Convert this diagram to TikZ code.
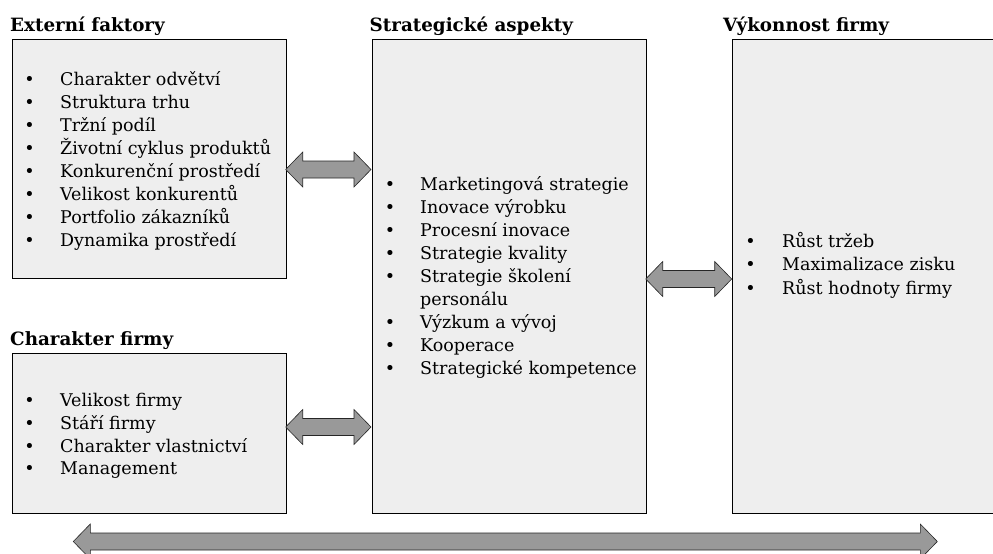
\documentclass[tikz,border=0pt]{standalone}
\usepackage{fontspec}
\setmainfont{DejaVu Serif}
\definecolor{boxgray}{HTML}{EEEEEE}
\definecolor{arrowgray}{HTML}{999999}
\newcommand\harrow[3]{%
  \draw[blockarrow] (#1,#3) -- ++(17,-17.5) -- ++(0,9) -- (#2-17,#3-8.5) -- ++(0,-9) -- (#2,#3)
    -- ++(-17,17.5) -- ++(0,-9) -- (#1+17,#3+8.5) -- ++(0,9) -- cycle;}
\begin{document}
\begin{tikzpicture}[x=1pt,y=-1pt,
  every node/.style={font=\fontsize{17.5}{21}\selectfont},
  box/.style={draw=black, line width=0.9pt, fill=boxgray, inner sep=0, anchor=north west},
  head/.style={font=\fontsize{18.3}{22}\selectfont\bfseries, anchor=base west, inner sep=0},
  item/.style={anchor=base west, inner sep=0},
  bul/.style={anchor=base, inner sep=0},
  blockarrow/.style={draw=black!85, line width=0.6pt, fill=arrowgray, line join=miter}]
\useasboundingbox (0,0) rectangle (993,554);

% boxes
\node[box, minimum width=273.5pt, minimum height=239.5pt] (ef) at (12,38.5) {};
\node[box, minimum width=273.5pt, minimum height=160pt] (cf) at (12,353) {};
\node[box, minimum width=274.5pt, minimum height=474.5pt] (sa) at (371.5,38.5) {};
\node[box, minimum width=270pt, minimum height=474pt] (vf) at (732,39) {};

% headers
\node[head] (hef) at (10,31) {Externí faktory};
\node[head] (hcf) at (10,345) {Charakter firmy};
\node[head] (hsa) at (369.5,31.5) {Strategické aspekty};
\node[head] (hvf) at (723,31.5) {Výkonnost firmy};

% lists
\foreach \t [count=\i from 0] in {Charakter odvětví, Struktura trhu, Tržní podíl,
  Životní cyklus produktů, Konkurenční prostředí, Velikost konkurentů,
  Portfolio zákazníků, Dynamika prostředí} {
  \node[bul] (eb\i) at (29.5,85+23*\i) {•};
  \node[item] (et\i) at (60,85+23*\i) {\t};
}
\foreach \t [count=\i from 0] in {Velikost firmy, Stáří firmy, Charakter vlastnictví, Management} {
  \node[bul] (cb\i) at (29.5,406.5+22.8*\i) {•};
  \node[item] (ct\i) at (60,406.5+22.8*\i) {\t};
}
\foreach \t/\b [count=\i from 0] in {Marketingová strategie/•, Inovace výrobku/•,
  Procesní inovace/•, Strategie kvality/•, Strategie školení/•, personálu/{},
  Výzkum a vývoj/•, Kooperace/•, Strategické kompetence/•} {
  \node[bul] (sb\i) at (390,190+23*\i) {\b};
  \node[item] (st\i) at (420,190+23*\i) {\t};
}
\foreach \t [count=\i from 0] in {Růst tržeb, Maximalizace zisku, Růst hodnoty firmy} {
  \node[bul] (vb\i) at (750.5,247.5+23.3*\i) {•};
  \node[item] (vt\i) at (782,247.5+23.3*\i) {\t};
}

% block arrows
\harrow{285.7}{371}{169.5}
\harrow{285.7}{371}{427}
\harrow{645.7}{731.7}{279}
\harrow{73.3}{937.3}{541.5}
\end{tikzpicture}
\end{document}
